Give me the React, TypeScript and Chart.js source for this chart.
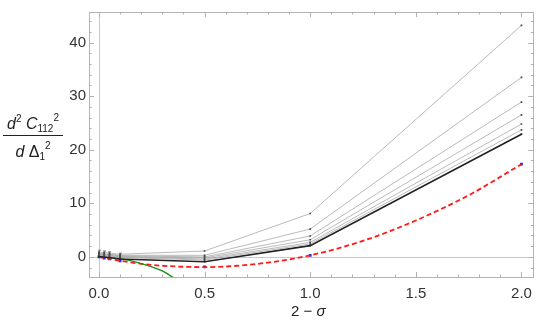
import React, { useEffect, useRef } from 'react';
import { Chart, registerables } from 'chart.js';
Chart.register(...registerables);

const xVals = [0, 0.025, 0.05, 0.1, 0.5, 1, 2];
const gray1 = [0.9, 0.8, 0.7, 0.5, 1.1, 8.1, 43.2];
const gray2 = [0.7, 0.6, 0.5, 0.3, 0.3, 5.2, 33.5];
const gray3 = [0.6, 0.5, 0.4, 0.2, 0.0, 3.9, 28.9];
const gray4 = [0.5, 0.4, 0.3, 0.1, -0.2, 3.2, 26.5];
const gray5 = [0.4, 0.3, 0.2, 0.0, -0.4, 2.7, 24.8];
const gray6 = [0.3, 0.2, 0.1, -0.1, -0.6, 2.4, 23.7];
const blackVals = [0.1, 0.0, -0.1, -0.4, -0.9, 2.1, 22.9];
const errTop = [0.35, 0.3, 0.25, 0.2, 0, 0, 0];
const blueVals = [0, -0.2, -0.38, -0.72, -1.85, 0.3, 17.3];
const redX = [0, 0.025, 0.05, 0.1, 0.25, 0.5, 0.75, 1, 1.25, 1.5, 1.75, 2];
const redY = [0, -0.2, -0.38, -0.72, -1.5, -1.9, -1.3, 0.3, 3.0, 6.8, 11.5, 17.3];
const greenX = [0, 0.05, 0.1, 0.15, 0.2, 0.25, 0.3, 0.33, 0.36];
const greenY = [0, -0.1, -0.35, -0.7, -1.25, -1.85, -2.6, -3.3, -4.1];
const xTickLabels = ['0.0', '0.5', '1.0', '1.5', '2.0'];
const yTickLabels = ['0', '10', '20', '30', '40'];

const FONT = '"Liberation Sans", Arial, sans-serif';

const pts = (xs: number[], ys: number[]) => xs.map((x, i) => ({ x, y: ys[i] }));

const framePlugin = {
  id: 'frame',
  beforeDatasetsDraw(chart: any) {
    const { ctx, chartArea: a, scales } = chart;
    const xs = scales.x, ys = scales.y;
    ctx.save();
    ctx.strokeStyle = '#c8c8c8';
    ctx.lineWidth = 1;
    const x0 = Math.round(xs.getPixelForValue(0)) + 0.5;
    const y0 = Math.round(ys.getPixelForValue(0)) + 0.5;
    ctx.beginPath();
    ctx.moveTo(x0, a.top); ctx.lineTo(x0, a.bottom);
    ctx.moveTo(a.left, y0); ctx.lineTo(a.right, y0);
    ctx.stroke();
    ctx.strokeStyle = '#b4b4b4';
    ctx.strokeRect(Math.round(a.left) + 0.5, Math.round(a.top) + 0.5, Math.round(a.right - a.left), Math.round(a.bottom - a.top));
    ctx.strokeStyle = '#b0b0b0';
    ctx.beginPath();
    for (let i = 0; i <= 20; i++) {
      const v = i * 0.1;
      const p = Math.round(xs.getPixelForValue(v)) + 0.5;
      const len = i % 5 === 0 ? 5 : 2.5;
      ctx.moveTo(p, a.bottom); ctx.lineTo(p, a.bottom - len);
      ctx.moveTo(p, a.top); ctx.lineTo(p, a.top + len);
    }
    for (let v = -2; v <= 44; v += 2) {
      const p = Math.round(ys.getPixelForValue(v)) + 0.5;
      const len = v % 10 === 0 ? 5 : 2.5;
      ctx.moveTo(a.left, p); ctx.lineTo(a.left + len, p);
      ctx.moveTo(a.right, p); ctx.lineTo(a.right - len, p);
    }
    ctx.stroke();
    ctx.strokeStyle = '#777';
    ctx.beginPath();
    xVals.forEach((xv, i) => {
      if (errTop[i] <= 0) return;
      const px = Math.round(xs.getPixelForValue(xv)) + 0.5;
      const top = ys.getPixelForValue(gray1[i] + errTop[i]);
      const bot = ys.getPixelForValue(blackVals[i] - errTop[i]);
      ctx.moveTo(px, top); ctx.lineTo(px, bot);
      ctx.moveTo(px - 1.5, top); ctx.lineTo(px + 1.5, top);
    });
    ctx.stroke();
    ctx.restore();
  },
  afterDraw(chart: any) {
    const { ctx } = chart;
    ctx.save();
    ctx.fillStyle = '#222';
    ctx.textBaseline = 'alphabetic';
    type Run = { t: string; f: string; dy: number };
    const drawRuns = (runs: Run[], cx: number, by: number) => {
      let w = 0;
      runs.forEach(r => { ctx.font = r.f; w += ctx.measureText(r.t).width; });
      let x = cx - w / 2;
      runs.forEach(r => { ctx.font = r.f; ctx.textAlign = 'left'; ctx.fillText(r.t, x, by + r.dy); x += ctx.measureText(r.t).width; });
      return w;
    };
    const it = `italic 16px ${FONT}`;
    const nm = `16px ${FONT}`;
    const sm = `10px ${FONT}`;
    const num: Run[] = [
      { t: 'd', f: it, dy: 0 }, { t: '2', f: sm, dy: -7 }, { t: ' ', f: nm, dy: 0 },
      { t: 'C', f: it, dy: 0 }, { t: '112', f: sm, dy: 3 }, { t: '2', f: sm, dy: -8 },
    ];
    const den: Run[] = [
      { t: 'd', f: it, dy: 0 }, { t: ' ', f: nm, dy: 0 }, { t: 'Δ', f: nm, dy: 0 },
      { t: '1', f: sm, dy: 3 }, { t: '2', f: sm, dy: -8 },
    ];
    drawRuns(num, 33, 129);
    drawRuns(den, 33, 157);
    ctx.strokeStyle = '#222';
    ctx.lineWidth = 1;
    ctx.beginPath();
    ctx.moveTo(3, 135.5); ctx.lineTo(63, 135.5);
    ctx.stroke();
    const xt: Run[] = [{ t: '2 \u2212 ', f: `15px ${FONT}`, dy: 0 }, { t: 'σ', f: `italic 15px ${FONT}`, dy: 0 }];
    drawRuns(xt, chart.scales.x.getPixelForValue(1) - 2, 316);
    ctx.restore();
  },
};

export default function App() {
  const ref = useRef<HTMLCanvasElement>(null);
  useEffect(() => {
    document.body.style.margin = '0';
    const grayStyle = (data: number[]) => ({
      data: pts(xVals, data),
      borderColor: '#a8a8a8',
      borderWidth: 0.8,
      pointRadius: 1.2,
      pointStyle: 'rect' as const,
      pointBackgroundColor: '#444',
      pointBorderWidth: 0,
      fill: false,
    });
    const chart = new Chart(ref.current!, {
      type: 'line',
      data: {
        datasets: [
          grayStyle(gray1), grayStyle(gray2), grayStyle(gray3), grayStyle(gray4), grayStyle(gray5), grayStyle(gray6),
          {
            data: pts(xVals, blackVals), borderColor: '#222', borderWidth: 1.6,
            pointRadius: 1.2, pointStyle: 'rect', pointBackgroundColor: '#222', pointBorderWidth: 0,
          },
          {
            data: pts(greenX, greenY), borderColor: '#1e8c1e', borderWidth: 1.4, pointRadius: 0,
            cubicInterpolationMode: 'monotone',
          },
          {
            data: pts(redX, redY), borderColor: '#ff1a1a', borderWidth: 1.8, borderDash: [5, 3],
            pointRadius: 0, cubicInterpolationMode: 'monotone',
          },
          {
            data: pts(xVals, blueVals), showLine: false, pointRadius: 2, pointStyle: 'rect',
            pointBackgroundColor: '#2222ff', pointBorderWidth: 0,
          },
        ],
      },
      options: {
        animation: false,
        responsive: false,
        parsing: false as any,
        layout: { padding: { left: 0, top: 1, right: 2, bottom: 0 } },
        plugins: { legend: { display: false }, tooltip: { enabled: false } },
        scales: {
          x: {
            type: 'linear', min: -0.047, max: 2.056,
            grid: { display: false, drawTicks: false },
            border: { display: false },
            ticks: {
              stepSize: 0.5, includeBounds: false, padding: 8, color: '#333',
              font: { family: FONT, size: 15 },
              callback: (v: any) => xTickLabels[Math.round(Number(v) / 0.5)] ?? '',
              maxRotation: 0,
            },
            afterFit: (s: any) => { s.height = 48; },
          },
          y: {
            type: 'linear', min: -3.75, max: 45.7,
            grid: { display: false, drawTicks: false },
            border: { display: false },
            ticks: {
              stepSize: 10, includeBounds: false, padding: 3, color: '#333',
              font: { family: FONT, size: 15 },
              callback: (v: any) => yTickLabels[Math.round(Number(v) / 10)] ?? '',
            },
            afterFit: (s: any) => { s.width = 89; },
          },
        },
      },
      plugins: [framePlugin],
    });
    return () => chart.destroy();
  }, []);
  return (
    <div style={{ position: 'absolute', left: 0, top: 0, width: 540, height: 325 }}>
      <canvas ref={ref} width={540} height={325} style={{ width: 540, height: 325 }} />
    </div>
  );
}
